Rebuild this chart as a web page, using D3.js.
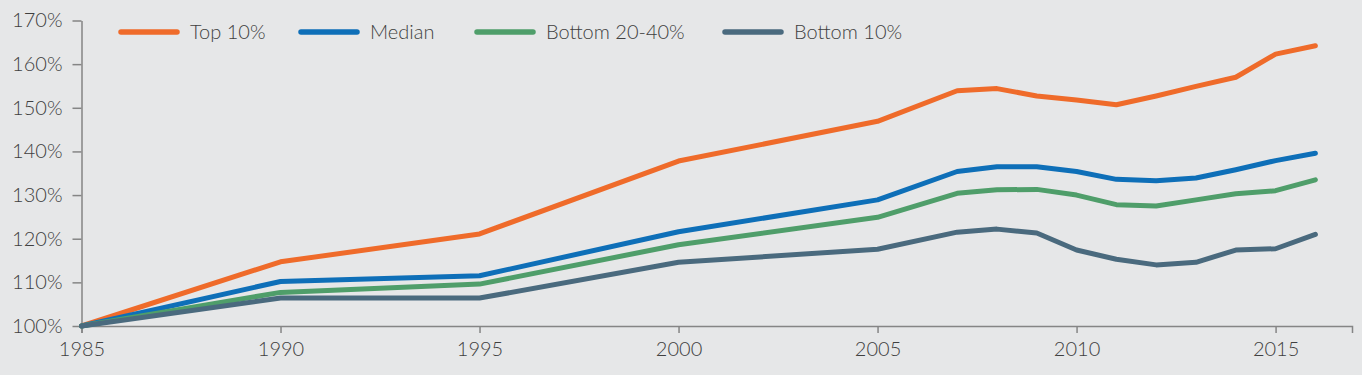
<!DOCTYPE html>
<html>
<head>
<meta charset="utf-8">
<script src="https://cdn.jsdelivr.net/npm/d3@7"></script>
<style>
  html, body { margin: 0; padding: 0; background: #e6e7e8; }
  svg { display: block; font-family: Lato, "Open Sans", sans-serif; font-weight: 300; }
</style>
</head>
<body>
<div id="chart"></div>
<script>
// data
const years = [1985, 1990, 1995, 2000, 2005, 2007, 2008, 2009, 2010, 2011, 2012, 2013, 2014, 2015, 2016]
const top10 = [100, 114.7, 121.1, 137.8, 146.9, 153.9, 154.4, 152.7, 151.8, 150.7, 152.7, 154.9, 157.0, 162.3, 164.2]
const median = [100, 110.2, 111.5, 121.6, 128.9, 135.4, 136.5, 136.5, 135.4, 133.6, 133.3, 133.9, 135.8, 137.9, 139.6]
const bottom2040 = [100, 107.7, 109.6, 118.6, 124.9, 130.4, 131.2, 131.3, 130.0, 127.8, 127.5, 128.9, 130.3, 131.0, 133.5]
const bottom10 = [100, 106.4, 106.4, 114.6, 117.6, 121.5, 122.2, 121.3, 117.4, 115.3, 114.0, 114.6, 117.4, 117.7, 121.0]

const seriesNames = ["Top 10%", "Median", "Bottom 20-40%", "Bottom 10%"]
const seriesValues = [top10, median, bottom2040, bottom10]
const colors = ["#ef6b2a", "#0e6fb8", "#4f9e6a", "#4a6a7e"]

const xTicks = [1985, 1990, 1995, 2000, 2005, 2010, 2015]
const yTicks = [100, 110, 120, 130, 140, 150, 160, 170]

const width = 1362, height = 375
const marginLeft = 81.5, marginRight = 10, marginTop = 20.5, marginBottom = 49

const svg = d3.select("#chart").append("svg")
    .attr("width", width)
    .attr("height", height)
    .attr("viewBox", [0, 0, width, height])

svg.append("rect")
    .attr("width", width)
    .attr("height", height)
    .attr("fill", "#e6e7e8")

const x = d3.scaleLinear()
    .domain([1985, 2016.92])
    .range([marginLeft, width - marginRight])

const y = d3.scaleLinear()
    .domain([100, 170])
    .range([height - marginBottom, marginTop])

const axisColor = "#858585"
const textColor = "#3f3f3f"

// x axis
svg.append("g")
    .attr("transform", `translate(0,${y(100)})`)
    .call(d3.axisBottom(x).tickValues(xTicks).tickFormat(d3.format("d")).tickSize(7).tickSizeOuter(7).tickPadding(9))
    .call(g => g.select(".domain").attr("stroke", axisColor).attr("stroke-width", 1.5))
    .call(g => g.selectAll(".tick line").attr("stroke", axisColor).attr("stroke-width", 1.5))
    .call(g => g.selectAll(".tick text")
        .attr("fill", textColor)
        .attr("font-size", 20)
        .attr("font-family", "Lato, sans-serif")
        .attr("font-weight", 300))

// y axis
svg.append("g")
    .attr("transform", `translate(${marginLeft},0)`)
    .call(d3.axisLeft(y).tickValues(yTicks).tickFormat(d => d + "%").tickSize(9).tickSizeOuter(0).tickPadding(10))
    .call(g => g.select(".domain").attr("stroke", axisColor).attr("stroke-width", 1.5))
    .call(g => g.selectAll(".tick line").attr("stroke", axisColor).attr("stroke-width", 1.5))
    .call(g => g.selectAll(".tick text")
        .attr("fill", textColor)
        .attr("font-size", 20)
        .attr("font-family", "Lato, sans-serif")
        .attr("font-weight", 300))

const line = d3.line()
    .x((d, i) => x(years[i]))
    .y(d => y(d))

svg.append("g")
    .selectAll("path")
    .data(seriesValues)
    .join("path")
    .attr("fill", "none")
    .attr("stroke", (d, i) => colors[i])
    .attr("stroke-width", 5)
    .attr("stroke-linejoin", "round")
    .attr("stroke-linecap", "round")
    .attr("d", line)

// legend
const legendX = [121, 301, 477, 725]
const legend = svg.append("g")
    .selectAll("g")
    .data(seriesNames)
    .join("g")
    .attr("transform", (d, i) => `translate(${legendX[i]},32)`)

legend.append("line")
    .attr("x1", 0)
    .attr("x2", 56)
    .attr("stroke", (d, i) => colors[i])
    .attr("stroke-width", 5.5)
    .attr("stroke-linecap", "round")

legend.append("text")
    .attr("x", 69)
    .attr("dy", "0.35em")
    .attr("fill", textColor)
    .attr("font-size", 20)
    .attr("font-weight", 300)
    .text(d => d)
</script>
</body>
</html>
